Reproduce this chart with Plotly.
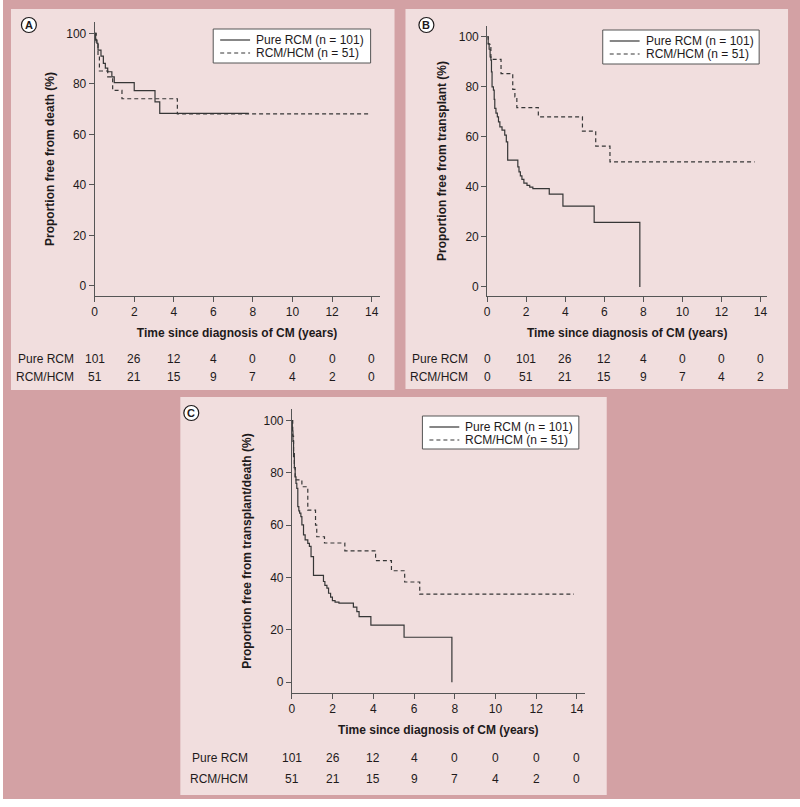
import plotly.graph_objects as go

# ---------------- data ----------------
risk_times = [0, 2, 4, 6, 8, 10, 12, 14]
series_names = ["Pure RCM", "RCM/HCM"]
legend_labels = ["Pure RCM (n = 101)", "RCM/HCM (n = 51)"]

# Panel A: free from death
A_pure_t = [0, 0.05, 0.12, 0.17, 0.32, 0.44, 0.54, 0.66, 0.87, 0.99, 2.0, 3.05, 3.29, 7.79]
A_pure_s = [100, 97.3, 96, 93.4, 91, 88.1, 86.2, 84.8, 82.8, 80.5, 77.3, 72.9, 68.3, 68.3]
A_hcm_t = [0, 0.08, 0.17, 0.24, 0.66, 0.91, 1.38, 4.18, 13.86]
A_hcm_s = [100, 96, 91.4, 85.1, 82.8, 77.4, 74.1, 68.1, 68.1]
A_risk_pure = [101, 26, 12, 4, 0, 0, 0, 0]
A_risk_hcm = [51, 21, 15, 9, 7, 4, 2, 0]

# Panel B: free from transplant
B_pure_t = [0, 0.05, 0.1, 0.15, 0.19, 0.22, 0.25, 0.32, 0.36, 0.39, 0.45, 0.52, 0.58, 0.65,
            0.76, 0.9, 0.98, 1.05, 1.57, 1.63, 1.7, 1.78, 1.88, 2.04, 2.18, 2.34, 3.18, 3.88,
            5.48, 7.82]
B_pure_s = [100, 97.3, 95, 92, 90.7, 86, 80, 78.7, 75, 71.4, 69.5, 68, 66, 64,
            62.7, 60.7, 58, 50.7, 48, 46, 44.4, 43, 41.5, 40.6, 39.9, 39.3, 37.1, 32.3,
            25.8, 0]
B_hcm_t = [0, 0.05, 0.19, 0.71, 1.31, 1.42, 1.52, 2.62, 4.88, 5.56, 6.29, 13.7]
B_hcm_s = [100, 97, 91, 85.3, 79, 76, 71.7, 68, 62.3, 56.3, 50, 50]
B_risk_pure = [0, 101, 26, 12, 4, 0, 0, 0]
B_risk_hcm = [0, 51, 21, 15, 9, 7, 4, 2]

# Panel C: free from transplant/death
C_pure_t = [0, 0.02, 0.05, 0.08, 0.12, 0.16, 0.2, 0.24, 0.29, 0.34, 0.38, 0.44, 0.49, 0.57,
            0.65, 0.78, 0.86, 0.94, 1.06, 1.55, 1.62, 1.72, 1.8, 1.9, 1.99, 2.12, 2.31,
            3.02, 3.19, 3.3, 3.88, 5.51, 7.86]
C_pure_s = [100, 96, 92, 86.2, 82, 78.5, 76, 74.1, 67.1, 65.5, 64.6, 63.3, 60.1, 56.3,
            54.4, 53.1, 51.9, 48, 40.8, 38.5, 37, 36, 34, 32.5, 31.2, 30.6, 30.2,
            28.7, 27, 25.1, 21.8, 17.2, 0]
C_hcm_t = [0, 0.04, 0.08, 0.12, 0.16, 0.49, 0.78, 1.16, 1.22, 1.6, 2.6, 4.11, 4.89, 5.54, 6.28, 13.86]
C_hcm_s = [100, 94, 88, 82, 77.3, 74.7, 65.8, 60, 55.6, 53.2, 50.2, 46.5, 42.6, 38.3, 33.7, 33.7]
C_risk_pure = [101, 26, 12, 4, 0, 0, 0, 0]
C_risk_hcm = [51, 21, 15, 9, 7, 4, 2, 0]

y_titles = ["Proportion free from death (%)",
            "Proportion free from transplant (%)",
            "Proportion free from transplant/death (%)"]
x_title = "Time since diagnosis of CM (years)"
panel_letters = ["A", "B", "C"]

# ---------------- style / layout helpers ----------------
W, H = 800, 807
def PX(x):
    return x / W
def PY(y):
    return 1 - y / H

FONT = "Liberation Sans, Arial, Helvetica, sans-serif"
TXT = "#1e1a1b"
AX = "#555555"
LINE = "#363636"
OUTER = "#d3a1a4"
PANEL = "#f1dede"

panels = [
    dict(curves=[(A_pure_t, A_pure_s), (A_hcm_t, A_hcm_s)], risk=[A_risk_pure, A_risk_hcm],
         xdom=(92, 378), ydom=(296, 22), xr=[0, 14.4], yr=[-4, 104.5],
         rect=(8, 9, 393, 390), circle=(26, 25), rows=(359, 377), lab_right=73,
         leg=(211, 29, 369, 63)),
    dict(curves=[(B_pure_t, B_pure_s), (B_hcm_t, B_hcm_s)], risk=[B_risk_pure, B_risk_hcm],
         xdom=(486, 767), ydom=(296, 26), xr=[0, 14.34], yr=[-3.6, 104.3],
         rect=(404, 9, 788, 389), circle=(425, 25), rows=(359, 377), lab_right=469,
         leg=(602, 30, 759, 64)),
    dict(curves=[(C_pure_t, C_pure_s), (C_hcm_t, C_hcm_s)], risk=[C_risk_pure, C_risk_hcm],
         xdom=(290, 584), ydom=(693, 409), xr=[0, 14.39], yr=[-4.1, 104.4],
         rect=(178, 397, 606, 795), circle=(189, 413), rows=(758, 779), lab_right=248,
         leg=(421, 416, 578, 449)),
]

fig = go.Figure()
shapes = []
annotations = []

# outer background (white strip at the very bottom)
shapes.append(dict(type="rect", xref="paper", yref="paper", x0=0, x1=1, y0=PY(799), y1=1,
                   fillcolor=OUTER, line=dict(width=0), layer="below"))

for i, p in enumerate(panels):
    k = "" if i == 0 else str(i + 1)
    xa, ya = "x" + k, "y" + k
    # panel background
    x0, y0, x1, y1 = p["rect"]
    shapes.append(dict(type="rect", xref="paper", yref="paper", x0=PX(x0), x1=PX(x1),
                       y0=PY(y1), y1=PY(y0), fillcolor=PANEL, line=dict(width=0), layer="below"))
    # curves
    for j, (t, s) in enumerate(p["curves"]):
        fig.add_trace(go.Scatter(
            x=t, y=s, mode="lines", line_shape="hv", name=legend_labels[j],
            showlegend=False, xaxis=xa, yaxis=ya, hoverinfo="skip",
            line=dict(color=LINE, width=1.2, dash="solid" if j == 0 else "4px,3px")))
    axis_common = dict(showline=True, linecolor=AX, linewidth=1, ticks="outside", ticklen=5,
                       tickcolor=AX, tickwidth=1, showgrid=False, zeroline=False,
                       tickfont=dict(family=FONT, size=12, color=TXT), fixedrange=True)
    fig.layout["xaxis" + k] = dict(
        axis_common, domain=[PX(p["xdom"][0]), PX(p["xdom"][1])], range=p["xr"],
        tickvals=risk_times, anchor=ya,
        title=dict(text=x_title, standoff=10, font=dict(family=FONT, size=12, color=TXT, weight="bold")))
    fig.layout["yaxis" + k] = dict(
        axis_common, domain=[PY(p["ydom"][0]), PY(p["ydom"][1])], range=p["yr"],
        tickvals=[0, 20, 40, 60, 80, 100], anchor=xa,
        title=dict(text=y_titles[i], standoff=9, font=dict(family=FONT, size=12, color=TXT, weight="bold")))
    # panel letter circle
    cx, cy = p["circle"]
    shapes.append(dict(type="circle", xref="paper", yref="paper", x0=PX(cx - 7.5), x1=PX(cx + 7.5),
                       y0=PY(cy + 7.5), y1=PY(cy - 7.5), fillcolor="white",
                       line=dict(color=TXT, width=1.2)))
    annotations.append(dict(text="<b>%s</b>" % panel_letters[i], x=PX(cx), y=PY(cy),
                            xref="paper", yref="paper", xanchor="center", yanchor="middle",
                            showarrow=False, font=dict(family=FONT, size=11, color=TXT)))
    # risk table
    for r, row in enumerate(p["risk"]):
        ry = PY(p["rows"][r])
        annotations.append(dict(text=series_names[r], x=PX(p["lab_right"]), y=ry,
                                xref="paper", yref="paper", xanchor="right", yanchor="middle",
                                showarrow=False, font=dict(family=FONT, size=12, color=TXT)))
        for tt, v in zip(risk_times, row):
            annotations.append(dict(text=str(v), x=tt, y=ry, xref=xa, yref="paper",
                                    xanchor="center", yanchor="middle", showarrow=False,
                                    font=dict(family=FONT, size=12, color=TXT)))
    # manual legend box
    lx0, ly0, lx1, ly1 = p["leg"]
    shapes.append(dict(type="rect", xref="paper", yref="paper", x0=PX(lx0), x1=PX(lx1),
                       y0=PY(ly1), y1=PY(ly0), fillcolor="white", line=dict(color=AX, width=1)))
    for j in range(2):
        rowy = ly0 + 11 + 13 * j
        shapes.append(dict(type="line", xref="paper", yref="paper", x0=PX(lx0 + 7), x1=PX(lx0 + 37),
                           y0=PY(rowy), y1=PY(rowy),
                           line=dict(color=LINE, width=1.2, dash="solid" if j == 0 else "4px,3px")))
        annotations.append(dict(text=legend_labels[j], x=PX(lx0 + 41), y=PY(rowy),
                                xref="paper", yref="paper", xanchor="left", yanchor="middle",
                                showarrow=False, font=dict(family=FONT, size=12, color=TXT)))

fig.update_layout(
    width=W, height=H, margin=dict(l=0, r=0, t=0, b=0),
    paper_bgcolor="white", plot_bgcolor="white",
    shapes=shapes, annotations=annotations, showlegend=False,
    font=dict(family=FONT, size=12, color=TXT),
)

fig.write_html("out.html", config={"displayModeBar": False},
               post_script="document.body.style.margin='0';")
